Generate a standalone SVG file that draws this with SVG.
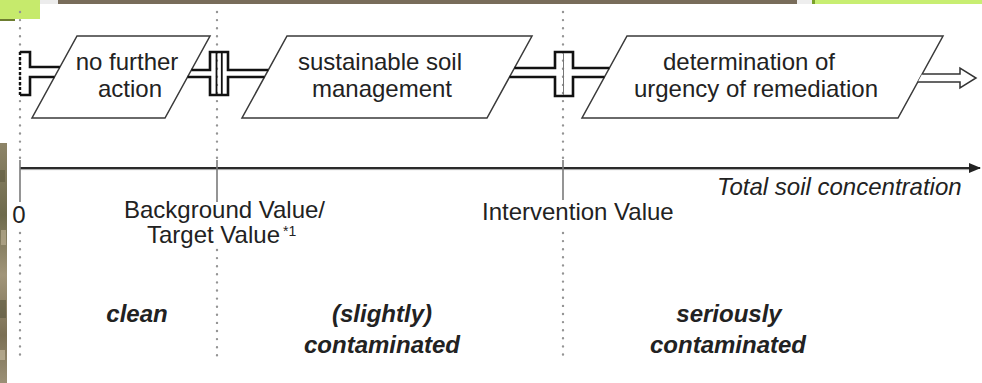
<svg xmlns="http://www.w3.org/2000/svg" width="982" height="383" viewBox="0 0 982 383">
<style>
.node{fill:#fff;stroke:#3a3a3a;stroke-width:1.5}
.lbl{font-family:"Liberation Sans",Arial,sans-serif;font-size:24px;fill:#222}
.mid{text-anchor:middle}
.cls{font-family:"Liberation Sans",Arial,sans-serif;font-size:24px;font-weight:bold;font-style:italic;fill:#222;text-anchor:middle}
.dot{stroke:#949494;stroke-width:2.4;stroke-linecap:round;stroke-dasharray:0 8.1;fill:none}
.plug{fill:none;stroke:#111;stroke-width:2.6;stroke-linejoin:miter}
.tick{stroke:#7a7a7a;stroke-width:1.6}
</style>
<defs>
<linearGradient id="photo" x1="0" y1="0" x2="0" y2="1">
<stop offset="0" stop-color="#8d8468"/>
<stop offset="0.3" stop-color="#6e6a4c"/>
<stop offset="0.55" stop-color="#a19579"/>
<stop offset="0.8" stop-color="#7b7055"/>
<stop offset="1" stop-color="#9b9076"/>
</linearGradient>
<marker id="axhead" viewBox="0 0 12 10" refX="11" refY="5" markerWidth="12" markerHeight="10" markerUnits="userSpaceOnUse" orient="auto">
<path d="M0,0 L12,5 L0,10 Z" fill="#222"/>
</marker>
</defs>
<rect width="982" height="383" fill="#fff"/>
<!-- slide decorations -->
<rect x="0" y="0" width="40" height="19" fill="#c6ea6c"/>
<rect x="0" y="19" width="15" height="2" fill="#6d7d30"/>
<rect x="40" y="0" width="18" height="4" fill="#ececec"/>
<rect x="58" y="0" width="739" height="4" fill="#786c5a"/>
<rect x="797" y="0" width="15" height="4" fill="#eeeeee"/>
<rect x="812" y="0" width="3" height="4" fill="#7aa02a"/>
<rect x="815" y="0" width="167" height="4" fill="#c8ee72"/>
<rect x="0" y="143" width="7" height="240" fill="url(#photo)"/>
<rect x="0" y="170" width="5" height="12" fill="#5f5a40" opacity="0.6"/>
<rect x="1" y="230" width="5" height="15" fill="#b8ad90" opacity="0.7"/>
<rect x="0" y="300" width="6" height="18" fill="#5c5840" opacity="0.6"/>
<rect x="0" y="350" width="5" height="10" fill="#c2b79b" opacity="0.7"/>

<!-- dotted class boundaries -->
<g id="boundaries">
<path class="dot" d="M20,12 V160 M20,233 V357"/>
<path class="dot" d="M217,12 V160 M217,250 V357"/>
<path class="dot" d="M563,12 V160 M563,233 V357"/>
</g>

<!-- axis -->
<g id="axis">
<line x1="20" y1="169.6" x2="970" y2="169.6" stroke="#a0a0a0" stroke-width="1"/>
<line x1="20" y1="168" x2="980" y2="168" stroke="#2a2a2a" stroke-width="2.2" marker-end="url(#axhead)"/>
<line class="tick" x1="20" y1="160" x2="20" y2="202"/>
<line class="tick" x1="217" y1="160" x2="217" y2="202"/>
<line class="tick" x1="563" y1="160" x2="563" y2="200"/>
<text class="lbl" x="717" y="195" font-style="italic">Total soil concentration</text>
<text class="lbl mid" x="19" y="223">0</text>
<text class="lbl" x="124" y="218">Background Value/</text>
<text class="lbl" x="147" y="243">Target Value<tspan font-size="14" dx="3" dy="-7">*1</tspan></text>
<text class="lbl" x="482" y="220">Intervention Value</text>
</g>

<!-- class labels -->
<g id="classes">
<text class="cls" x="137" y="322">clean</text>
<text class="cls" x="382" y="322">(slightly)</text>
<text class="cls" x="382" y="353">contaminated</text>
<text class="cls" x="729" y="322">seriously</text>
<text class="cls" x="728" y="353">contaminated</text>
</g>

<!-- nodes -->
<g id="node-no-further-action">
<path class="node" d="M77,36 L210,36 L165,118 L32,118 Z"/>
<text class="lbl mid" x="127" y="70">no further</text>
<text class="lbl mid" x="130" y="97">action</text>
</g>
<g id="node-sustainable-soil-management">
<path class="node" d="M287,36 L532,36 L487,118 L242,118 Z"/>
<text class="lbl mid" x="380" y="70">sustainable soil</text>
<text class="lbl mid" x="382" y="97">management</text>
</g>
<g id="node-determination">
<path class="node" d="M627,36 L943,36 L898,118 L582,118 Z"/>
<text class="lbl mid" x="749" y="70">determination of</text>
<text class="lbl mid" x="756" y="97">urgency of remediation</text>
</g>

<!-- connectors -->
<g id="connectors">
<path class="plug" d="M20,52 H30 V67 H59.9 M54.5,77 H30 V95 H20"/>
<line x1="20" y1="52" x2="20" y2="95" stroke="#111" stroke-width="2.4" stroke-dasharray="3 2"/>
<path class="plug" d="M191.3,70 H210 V52 H228 V70 H268.3 M264.5,77 H228 V95 H210 V77 H187.5"/>
<line x1="216.5" y1="52" x2="216.5" y2="95" stroke="#111" stroke-width="1.8"/>
<line x1="221.8" y1="52" x2="221.8" y2="95" stroke="#111" stroke-width="1.8"/>
<path class="plug" d="M514.4,68 H555 V52 H573 V68 H609.4 M604.5,77 H573 V96 H555 V77 H509.5"/>
<line x1="563.5" y1="53" x2="563.5" y2="95" stroke="#777" stroke-width="1"/>
<path d="M922.1,74 H960 V68 L976,78 L960,88 V82 H917.8" fill="#fff" stroke="#333" stroke-width="1.5"/>
</g>
</svg>
